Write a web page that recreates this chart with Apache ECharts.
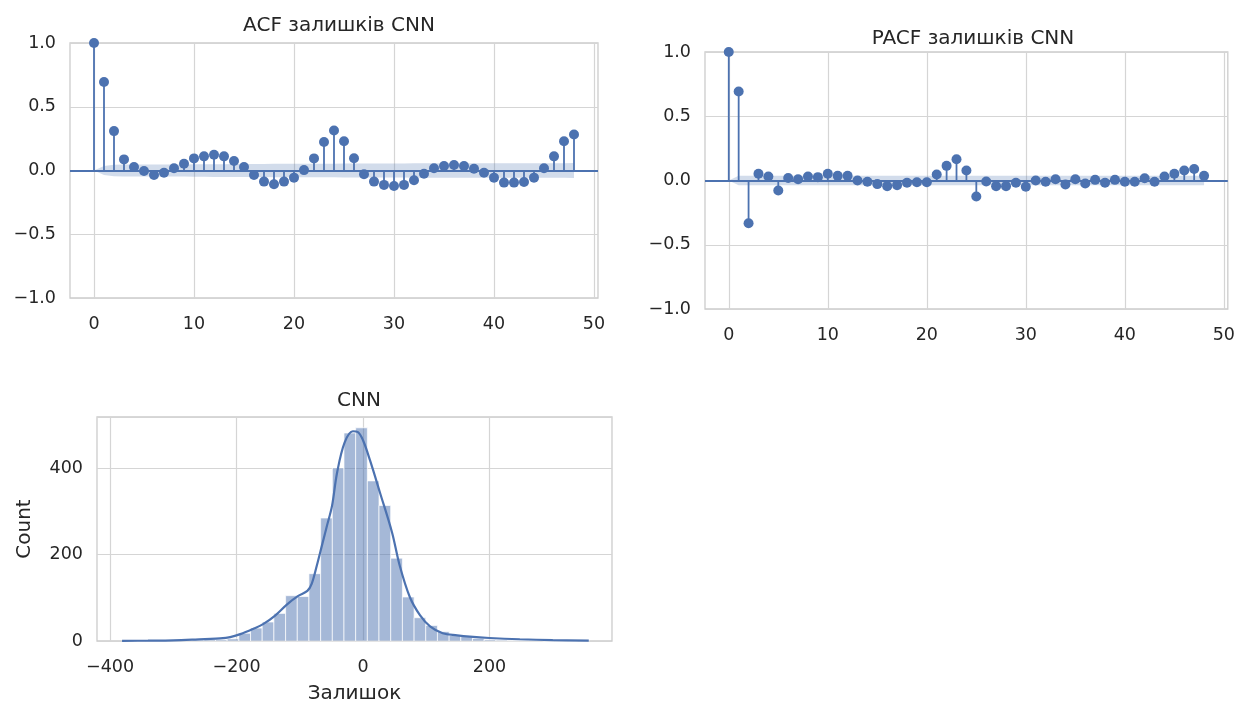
<!DOCTYPE html>
<html><head><meta charset="utf-8">
<script src="https://cdn.jsdelivr.net/npm/echarts@6/dist/echarts.min.js"></script>
<style>html,body{margin:0;padding:0;background:#fff}#c{width:1238px;height:705px}</style>
</head><body><div id="c"></div>
<script>
// ---------- data ----------
const lags = [0,1,2,3,4,5,6,7,8,9,10,11,12,13,14,15,16,17,18,19,20,21,22,23,24,25,26,27,28,29,30,31,32,33,34,35,36,37,38,39,40,41,42,43,44,45,46,47,48];
const acfValues = [1.0,0.694,0.309,0.087,0.027,-0.004,-0.035,-0.017,0.017,0.053,0.095,0.111,0.124,0.111,0.074,0.027,-0.035,-0.087,-0.108,-0.087,-0.056,0.003,0.095,0.223,0.314,0.23,0.096,-0.03,-0.087,-0.113,-0.121,-0.113,-0.077,-0.025,0.017,0.035,0.043,0.035,0.014,-0.017,-0.056,-0.095,-0.095,-0.09,-0.056,0.017,0.111,0.23,0.282];
const acfConf = [0,0.036,0.046,0.048,0.048,0.048,0.048,0.048,0.048,0.048,0.049,0.049,0.05,0.05,0.051,0.051,0.051,0.051,0.052,0.052,0.052,0.052,0.052,0.052,0.053,0.054,0.055,0.055,0.055,0.055,0.055,0.055,0.056,0.056,0.056,0.056,0.056,0.056,0.056,0.056,0.056,0.056,0.056,0.056,0.056,0.056,0.056,0.057,0.058];
const pacfValues = [1.0,0.693,-0.332,0.052,0.031,-0.078,0.02,0.01,0.031,0.026,0.052,0.036,0.036,0.0,-0.01,-0.028,-0.044,-0.036,-0.018,-0.013,-0.013,0.047,0.114,0.166,0.078,-0.125,-0.008,-0.044,-0.044,-0.018,-0.049,0.0,-0.01,0.01,-0.031,0.01,-0.023,0.005,-0.018,0.005,-0.01,-0.01,0.018,-0.01,0.031,0.052,0.078,0.09,0.036];
const pacfConf = [0,0.036,0.036,0.036,0.036,0.036,0.036,0.036,0.036,0.036,0.036,0.036,0.036,0.036,0.036,0.036,0.036,0.036,0.036,0.036,0.036,0.036,0.036,0.036,0.036,0.036,0.036,0.036,0.036,0.036,0.036,0.036,0.036,0.036,0.036,0.036,0.036,0.036,0.036,0.036,0.036,0.036,0.036,0.036,0.036,0.036,0.036,0.036,0.036];
const lagTicks = [0,10,20,30,40,50];

const binEdges = [-381.0,-362.5,-344.1,-325.6,-307.1,-288.7,-270.2,-251.7,-233.2,-214.8,-196.3,-177.8,-159.4,-140.9,-122.4,-103.9,-85.5,-67.0,-48.5,-30.1,-11.6,6.9,25.3,43.8,62.3,80.8,99.2,117.7,136.2,154.6,173.1,191.6,210.0,228.5,247.0,265.5,283.9,302.4,320.9,339.3,357.8];
const binCounts = [1,0,0,0,1,1,2,3,3,5,18,30,44,64,105,103,156,285,401,482,494,371,314,192,102,54,36,22,13,11,6,3,2,1,1,1,0,0,0,1];
const kdeX = [-381,-340,-300,-270,-250,-226,-210,-194,-174,-158,-139,-120,-103,-88,-81,-73,-65,-57,-49,-41,-29,-16,-8,0,11,27,46,58,74,90,106,126,149,169,200,248,300,357];
const kdeY = [0.3,0.8,1.5,3,4.5,6,9,16,28,39,59,85,104,116,133,175,221,267,313,390,460,486,484,465,419,343,251,175,102,60,34,18,13,10,7,4,2,1];
const histXTicks = [-400,-200,0,200];

const titles = ['ACF залишків CNN','PACF залишків CNN','CNN'];
const histXName = 'Залишок';
const histYName = 'Count';

// ---------- style ----------
const BLUE = '#4C72B0';
const FONT = 'DejaVu Sans';
const TXT = '#262626';
const GRIDC = '#d5d5d5';
const TICK_FS = 17.5;
const TITLE_FS = 20;
const minus = s => String(s).replace('-', '\u2212');

const chart = echarts.init(document.getElementById('c'), null, {renderer:'canvas'});

function lagX(gi){
  return {type:'value', gridIndex:gi, min:-2.4, max:50.4,
    axisLine:{show:false}, axisTick:{show:false, customValues:lagTicks},
    axisLabel:{customValues:lagTicks, color:TXT, fontFamily:FONT, fontSize:TICK_FS, margin:17},
    splitLine:{show:true, lineStyle:{color:GRIDC, width:1.2}}};
}
function corrY(gi){
  return {type:'value', gridIndex:gi, min:-1, max:1, interval:0.5,
    axisLine:{show:false}, axisTick:{show:false},
    axisLabel:{color:TXT, fontFamily:FONT, fontSize:TICK_FS, margin:14, formatter:v=>minus(v.toFixed(1))},
    splitLine:{show:true, lineStyle:{color:GRIDC, width:1.2}}};
}
function bandSeries(gi, conf){
  return {type:'custom', xAxisIndex:gi, yAxisIndex:gi, silent:true, z:1,
    data:[[0,0]],
    renderItem:(params, api)=>{
      const pts = [];
      for (let i=0;i<lags.length;i++) pts.push(api.coord([lags[i], conf[i]]));
      for (let i=lags.length-1;i>=0;i--) pts.push(api.coord([lags[i], -conf[i]]));
      return {type:'polygon', shape:{points:pts}, style:{fill:'rgba(76,114,176,0.25)'}};
    }};
}
function stemSeries(gi, vals){
  return {type:'custom', xAxisIndex:gi, yAxisIndex:gi, silent:true, z:3,
    data:lags.map((l,i)=>[l, vals[i]]),
    renderItem:(params, api)=>{
      const p0 = api.coord([api.value(0), 0]);
      const p1 = api.coord([api.value(0), api.value(1)]);
      return {type:'line', shape:{x1:p0[0],y1:p0[1],x2:p1[0],y2:p1[1]}, style:{stroke:BLUE, lineWidth:1.8}};
    },
    markLine:{silent:true, symbol:['none','none'], label:{show:false},
      lineStyle:{color:BLUE, width:2, type:'solid'}, data:[{yAxis:0}]}
  };
}
function dotSeries(gi, vals){
  return {type:'scatter', xAxisIndex:gi, yAxisIndex:gi, silent:true, z:4,
    symbol:'circle', symbolSize:10, itemStyle:{color:BLUE, opacity:1},
    data:lags.map((l,i)=>[l, vals[i]])};
}

const option = {
  animation:false,
  backgroundColor:'#fff',
  textStyle:{fontFamily:FONT},
  title:[
    {text:titles[0], left:334, top:11, textAlign:'center', textStyle:{fontFamily:FONT, fontSize:TITLE_FS, fontWeight:'normal', color:TXT}},
    {text:titles[1], left:968, top:24, textAlign:'center', textStyle:{fontFamily:FONT, fontSize:TITLE_FS, fontWeight:'normal', color:TXT}},
    {text:titles[2], left:354, top:386, textAlign:'center', textStyle:{fontFamily:FONT, fontSize:TITLE_FS, fontWeight:'normal', color:TXT}}
  ],
  grid:[
    {left:70, top:43, width:528, height:255, show:true, borderColor:'#cccccc', borderWidth:1.3, containLabel:false},
    {left:705, top:52, width:526, height:257, show:true, borderColor:'#cccccc', borderWidth:1.3, containLabel:false},
    {left:97, top:417, width:515, height:226, show:true, borderColor:'#cccccc', borderWidth:1.3, containLabel:false}
  ],
  xAxis:[
    lagX(0), lagX(1),
    {type:'value', gridIndex:2, min:-420.6, max:393.7,
      name:histXName, nameLocation:'middle', nameGap:43,
      nameTextStyle:{fontFamily:FONT, fontSize:TITLE_FS, color:TXT},
      axisLine:{show:false}, axisTick:{show:false, customValues:histXTicks},
      axisLabel:{customValues:histXTicks, color:TXT, fontFamily:FONT, fontSize:TICK_FS, margin:17, formatter:v=>minus(v)},
      splitLine:{show:true, lineStyle:{color:GRIDC, width:1.2}}}
  ],
  yAxis:[
    corrY(0), corrY(1),
    {type:'value', gridIndex:2, min:0, max:519, interval:200,
      name:histYName, nameLocation:'middle', nameGap:62, nameRotate:90,
      nameTextStyle:{fontFamily:FONT, fontSize:TITLE_FS, color:TXT},
      axisLine:{show:false}, axisTick:{show:false},
      axisLabel:{color:TXT, fontFamily:FONT, fontSize:TICK_FS, margin:14, showMaxLabel:false},
      splitLine:{show:true, lineStyle:{color:GRIDC, width:1.2}}}
  ],
  series:[
    bandSeries(0, acfConf), stemSeries(0, acfValues), dotSeries(0, acfValues),
    bandSeries(1, pacfConf), stemSeries(1, pacfValues), dotSeries(1, pacfValues),
    {type:'custom', xAxisIndex:2, yAxisIndex:2, silent:true, z:2,
      data:binCounts.map((c,i)=>[binEdges[i], binEdges[i+1], c]),
      encode:{x:[0,1], y:2},
      renderItem:(params, api)=>{
        const p0 = api.coord([api.value(0), api.value(2)]);
        const p1 = api.coord([api.value(1), 0]);
        return {type:'rect', shape:{x:p0[0], y:p0[1], width:p1[0]-p0[0], height:p1[1]-p0[1]},
          style:{fill:'rgba(76,114,176,0.5)', stroke:'rgba(255,255,255,0.7)', lineWidth:1}};
      }},
    {type:'line', xAxisIndex:2, yAxisIndex:2, silent:true, z:3,
      smooth:0.35, showSymbol:false, symbol:'none',
      lineStyle:{color:BLUE, width:2.2},
      data:kdeX.map((x,i)=>[x, kdeY[i]])}
  ]
};
chart.setOption(option);
</script>
</body></html>
